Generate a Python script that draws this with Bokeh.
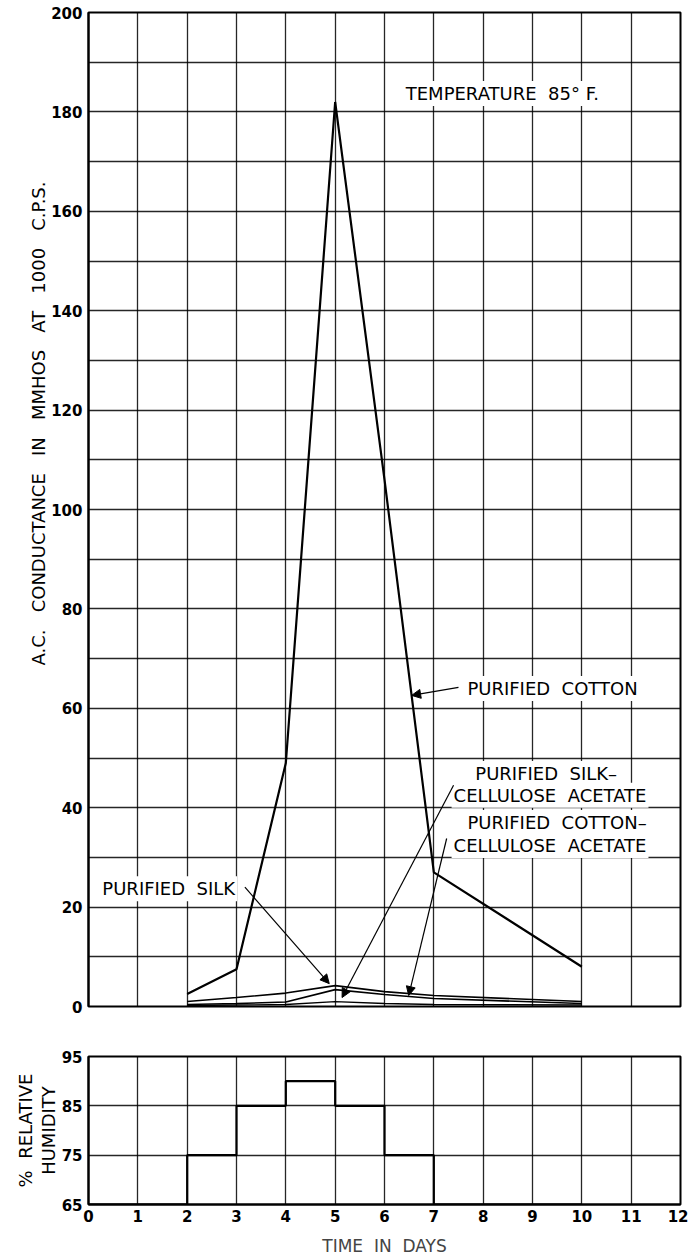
import math
from bokeh.plotting import figure
from bokeh.models import Range1d, FixedTicker, Label, Arrow, NormalHead, Title
from bokeh.layouts import column
from bokeh.embed import file_html
from bokeh.resources import INLINE

# ---------------- data ----------------
days = [2, 3, 4, 5, 6, 7, 10]
purified_cotton = [2.5, 7.5, 49, 182, 106, 27, 8]
purified_silk = [1.0, 1.8, 2.7, 4.2, 3.0, 2.2, 1.0]
cotton_cellulose_acetate = [0.4, 0.6, 0.9, 3.4, 2.4, 1.6, 0.6]
silk_cellulose_acetate = [0.2, 0.3, 0.4, 1.0, 0.6, 0.4, 0.3]

hum_days = [0, 2, 3, 4, 5, 6, 7, 10]
humidity = [65, 75, 85, 90, 85, 75, 65, 65]

x_ticks = list(range(0, 13))
y_ticks = list(range(0, 201, 20))
y_grid = list(range(0, 201, 10))
h_ticks = [65, 75, 85, 95]

FONT = "DejaVu Sans"
SP = "\u00a0"

def sp(text, n=2):
    return text.replace(" ", SP * n)

def style(p):
    p.outline_line_color = "black"
    p.outline_line_width = 2
    p.xgrid.grid_line_color = "black"
    p.ygrid.grid_line_color = "black"
    p.xgrid.grid_line_width = 1.3
    p.ygrid.grid_line_width = 1.3
    p.xgrid.grid_line_alpha = 0.85
    p.ygrid.grid_line_alpha = 0.85
    for ax in p.axis:
        ax.axis_line_color = "black"
        ax.axis_line_width = 2
        ax.major_tick_out = 0
        ax.major_tick_in = 0
        ax.minor_tick_out = 0
        ax.minor_tick_in = 0
        ax.major_label_text_font = FONT
        ax.major_label_text_font_style = "bold"
        ax.major_label_text_font_size = "15px"
        ax.major_label_text_color = "black"
        ax.major_label_standoff = 6

# ---------------- top plot ----------------
p = figure(frame_width=592, frame_height=994, width=688, height=1026,
           x_range=Range1d(0, 12), y_range=Range1d(0, 200),
           min_border_left=88, min_border_right=8, min_border_top=12, min_border_bottom=20,
           output_backend="svg", toolbar_location=None, tools="")
p.xaxis.visible = False
p.yaxis.ticker = FixedTicker(ticks=y_ticks)
p.xgrid.ticker = FixedTicker(ticks=x_ticks)
p.ygrid.ticker = FixedTicker(ticks=y_grid)
style(p)

p.line(days, purified_cotton, line_color="black", line_width=2.2)
p.line(days, purified_silk, line_color="black", line_width=1.6)
p.line(days, cotton_cellulose_acetate, line_color="black", line_width=1.6)
p.line(days, silk_cellulose_acetate, line_color="black", line_width=1.3)

def lab(fig, x, y, text, size="18px"):
    fig.add_layout(Label(x=x, y=y, text=text, text_font=FONT, text_font_size=size,
                         text_align="left", text_baseline="middle", text_color="black",
                         background_fill_color="white", padding=2))

def arrow(fig, x0, y0, x1, y1):
    fig.add_layout(Arrow(end=NormalHead(size=9, fill_color="black", line_color="black"),
                         x_start=x0, y_start=y0, x_end=x1, y_end=y1,
                         line_color="black", line_width=1.2))

lab(p, 6.39, 183.7, sp("TEMPERATURE 85°") + SP + "F.")
lab(p, 7.64, 64.0, sp("PURIFIED COTTON"))
lab(p, 7.8, 46.9, sp("PURIFIED SILK–"))
lab(p, 7.36, 42.5, sp("CELLULOSE ACETATE"))
lab(p, 7.64, 37.0, sp("PURIFIED COTTON–"))
lab(p, 7.36, 32.4, sp("CELLULOSE ACETATE"))
lab(p, 0.24, 23.7, sp("PURIFIED SILK"))

arrow(p, 7.5, 64.2, 6.55, 62.6)
arrow(p, 7.4, 44.5, 5.14, 1.8)
arrow(p, 7.26, 33.8, 6.49, 2.2)
arrow(p, 3.17, 24.0, 4.88, 4.6)

p.add_layout(Title(text=sp("A.C. CONDUCTANCE IN MMHOS AT 1000 C.P.S.", 3),
                   align="left", offset=341, standoff=0,
                   text_font=FONT, text_font_size="18px", text_font_style="normal",
                   text_color="black"), "left")

# ---------------- bottom plot ----------------
h = figure(frame_width=592, frame_height=148, width=688, height=224,
           x_range=Range1d(0, 12), y_range=Range1d(65, 95),
           min_border_left=88, min_border_right=8, min_border_top=30, min_border_bottom=46,
           output_backend="svg", toolbar_location=None, tools="")
h.xaxis.ticker = FixedTicker(ticks=x_ticks)
h.yaxis.ticker = FixedTicker(ticks=h_ticks)
h.xgrid.ticker = FixedTicker(ticks=x_ticks)
h.ygrid.ticker = FixedTicker(ticks=h_ticks)
style(h)
h.xaxis.major_label_standoff = 5
h.xaxis.axis_label = sp("TIME IN DAYS")
h.xaxis.axis_label_text_font = FONT
h.xaxis.axis_label_text_font_style = "normal"
h.xaxis.axis_label_text_font_size = "17px"
h.xaxis.axis_label_standoff = 11

h.step(hum_days, humidity, mode="after", line_color="black", line_width=2.2)

h.add_layout(Title(text="HUMIDITY", align="center", standoff=0,
                   text_font=FONT, text_font_size="18px", text_font_style="normal",
                   text_color="black"), "left")
h.add_layout(Title(text=sp("% RELATIVE"), align="center", standoff=0,
                   text_font=FONT, text_font_size="18px", text_font_style="normal",
                   text_color="black"), "left")

layout = column(p, h, spacing=0)
open("out.html", "w").write(file_html(layout, INLINE))
